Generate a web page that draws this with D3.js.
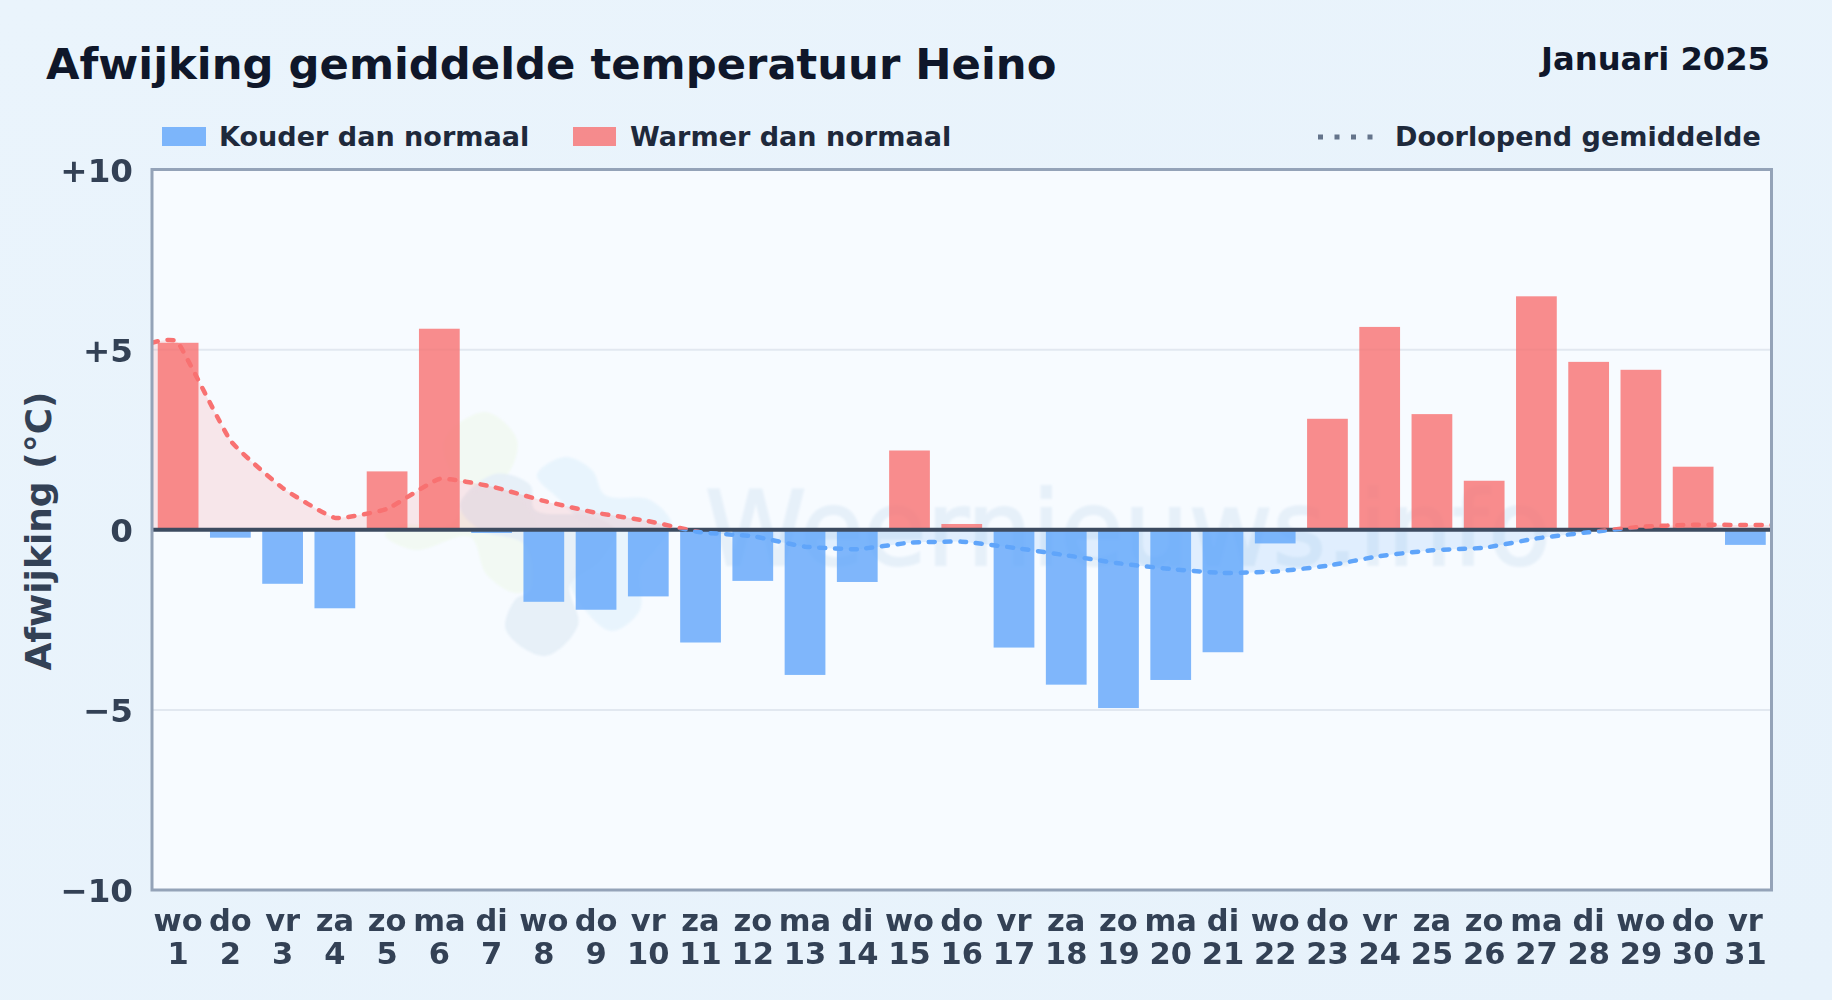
<!DOCTYPE html>
<html>
<head>
<meta charset="utf-8">
<script src="https://cdn.jsdelivr.net/npm/d3@7"></script>
<style>
    html, body { margin: 0; padding: 0; background: #e8f3fc; overflow: hidden; }
    svg { display: block; font-family: "DejaVu Sans", sans-serif; font-weight: bold; }
</style>
</head>
<body>
<svg id="chart" width="1832" height="1000"></svg>
<script>
// Day labels
const weekdays = ["wo","do","vr","za","zo","ma","di","wo","do","vr","za","zo","ma","di","wo","do","vr","za","zo","ma","di","wo","do","vr","za","zo","ma","di","wo","do","vr"];
const days = [1,2,3,4,5,6,7,8,9,10,11,12,13,14,15,16,17,18,19,20,21,22,23,24,25,26,27,28,29,30,31];

// Deviation per day in degrees
const deviation = [5.19,-0.22,-1.5,-2.18,1.62,5.58,-0.09,-2.0,-2.22,-1.85,-3.13,-1.42,-4.03,-1.45,2.2,0.16,-3.27,-4.3,-4.95,-4.17,-3.4,-0.38,3.08,5.63,3.21,1.36,6.48,4.66,4.44,1.75,-0.42];
const runningAvg = [5.19,2.48,1.16,0.33,0.58,1.41,1.2,0.8,0.47,0.24,-0.07,-0.18,-0.47,-0.54,-0.36,-0.33,-0.5,-0.71,-0.93,-1.09,-1.2,-1.16,-1.0,-0.73,-0.57,-0.5,-0.24,-0.07,0.08,0.14,0.13];

const yTicks = [10,5,0,-5,-10];
const yTickLabels = ["+10","+5","0","\u22125","\u221210"];

// Rough outlines of the logo behind the bars
const logoGreen = [[485,412],[517,440],[505,478],[470,495],[450,525],[400,525],[385,535],[415,550],[470,537],[487,575],[520,593],[545,560],[520,500],[458,480],[445,440]];
const logoBlue = [[565,457],[592,470],[605,495],[650,500],[672,525],[655,550],[640,570],[640,610],[612,631],[585,610],[570,580],[590,550],[600,530],[580,520],[560,500],[537,475]];
const logoDark = [[495,474],[530,485],[535,510],[590,516],[615,530],[600,560],[570,585],[578,625],[545,656],[506,630],[515,600],[530,590],[525,545],[480,530],[460,505]];

const red = "#f87171";
const blue = "#60a5fa";

const plot = {left: 152, right: 1771.5, top: 169.5, bottom: 890};

let svg = d3.select("#chart");

// Page background
let defs = svg.append("defs");
let bg = defs.append("linearGradient").attr("id", "bg")
    .attr("x1", 0).attr("y1", 0).attr("x2", 1).attr("y2", 1);
bg.append("stop").attr("offset", "0%").attr("stop-color", "#eaf4fc");
bg.append("stop").attr("offset", "100%").attr("stop-color", "#e7f2fb");
svg.append("rect").attr("width", 1832).attr("height", 1000).attr("fill", "url(#bg)");

defs.append("filter").attr("id", "soft")
    .append("feGaussianBlur").attr("stdDeviation", 1);

// Scales
let x = d3.scaleBand()
    .domain(days)
    .range([plot.left, plot.right])
    .paddingInner(0.22)
    .paddingOuter(0.11);
let y = d3.scaleLinear()
    .domain([-10, 10])
    .range([plot.bottom, plot.top]);

// Clips so the running average switches colour at zero
defs.append("clipPath").attr("id", "above").append("rect")
    .attr("x", plot.left).attr("y", plot.top)
    .attr("width", plot.right - plot.left).attr("height", y(0) - plot.top);
defs.append("clipPath").attr("id", "below").append("rect")
    .attr("x", plot.left).attr("y", y(0))
    .attr("width", plot.right - plot.left).attr("height", plot.bottom - y(0));

// Plot background
svg.append("rect")
    .attr("x", plot.left).attr("y", plot.top)
    .attr("width", plot.right - plot.left).attr("height", plot.bottom - plot.top)
    .attr("fill", "#f7fbff");

// Watermark
let blob = d3.line().curve(d3.curveCatmullRomClosed);
let mark = svg.append("g").attr("filter", "url(#soft)");
mark.append("path").attr("d", blob(logoGreen)).attr("fill", "#f2f9f3");
mark.append("path").attr("d", blob(logoBlue)).attr("fill", "#e8f4fd");
mark.append("path").attr("d", blob(logoDark)).attr("fill", "#e4eef7").attr("opacity", 0.9);
mark.append("text")
    .attr("x", 705).attr("y", 565)
    .attr("font-size", 102.6)
    .attr("font-weight", "normal")
    .attr("stroke", "#e6f0f9").attr("stroke-width", 2)
    .attr("fill", "#e6f0f9")
    .text("Weernieuws.info");

// Grid lines
svg.selectAll(".grid").data(yTicks.filter(d => d == 5 || d == -5))
    .enter().append("line")
    .attr("class", "grid")
    .attr("x1", plot.left).attr("x2", plot.right)
    .attr("y1", d => y(d)).attr("y2", d => y(d))
    .attr("stroke", "#e2e8f0").attr("stroke-width", 2);

// Bars
svg.selectAll(".bar").data(deviation)
    .enter().append("rect")
    .attr("class", "bar")
    .attr("x", (d, i) => x(days[i]))
    .attr("width", x.bandwidth())
    .attr("y", d => Math.min(y(d), y(0)))
    .attr("height", d => Math.abs(y(d) - y(0)))
    .attr("fill", d => d >= 0 ? red : blue)
    .attr("fill-opacity", 0.8);

// Running average, carried out to both edges of the plot
let avgPoints = runningAvg.map((d, i) => [x(days[i]) + x.bandwidth() / 2, d]);
avgPoints.unshift([plot.left, runningAvg[0]]);
avgPoints.push([plot.right, runningAvg[runningAvg.length - 1]]);

let smooth = d3.curveCardinal.tension(0.6);
let area = d3.area().curve(smooth)
    .x(d => d[0]).y0(y(0)).y1(d => y(d[1]));
let line = d3.line().curve(smooth)
    .x(d => d[0]).y(d => y(d[1]));

[["above", red], ["below", blue]].forEach(function(part) {
    svg.append("path")
        .attr("d", area(avgPoints))
        .attr("clip-path", "url(#" + part[0] + ")")
        .attr("fill", part[1]).attr("fill-opacity", 0.15);
});

// Zero line
svg.append("line")
    .attr("x1", plot.left).attr("x2", plot.right)
    .attr("y1", y(0)).attr("y2", y(0))
    .attr("stroke", "#3d4b60").attr("stroke-width", 4);

[["above", red], ["below", blue]].forEach(function(part) {
    svg.append("path")
        .attr("d", line(avgPoints))
        .attr("clip-path", "url(#" + part[0] + ")")
        .attr("fill", "none")
        .attr("stroke", part[1]).attr("stroke-width", 4.5)
        .attr("stroke-linecap", "round")
        .attr("stroke-dasharray", "6 9.7");
});

// Plot border
svg.append("rect")
    .attr("x", plot.left).attr("y", plot.top)
    .attr("width", plot.right - plot.left).attr("height", plot.bottom - plot.top)
    .attr("fill", "none").attr("stroke", "#94a3b8").attr("stroke-width", 3);

// Y axis
let yAxis = svg.append("g")
    .attr("transform", "translate(" + plot.left + ",1.2)")
    .call(d3.axisLeft(y).tickValues(yTicks).tickSize(0).tickPadding(19)
        .tickFormat((d, i) => yTickLabels[i]));
yAxis.select(".domain").remove();
yAxis.selectAll("text")
    .attr("font-family", "DejaVu Sans").attr("font-weight", "bold")
    .attr("font-size", 32.6).attr("fill", "#334155");

// X axis, weekday above the day number
let xAxis = svg.append("g")
    .attr("transform", "translate(0," + plot.bottom + ")")
    .call(d3.axisBottom(x).tickSize(0).tickFormat(""));
xAxis.select(".domain").remove();
xAxis.selectAll("text").remove();
let xTicks = xAxis.selectAll(".tick").append("text")
    .attr("font-family", "DejaVu Sans").attr("font-weight", "bold")
    .attr("font-size", 30.5).attr("fill", "#334155")
    .attr("text-anchor", "middle");
xTicks.append("tspan").attr("x", 0).attr("y", 41).text((d, i) => weekdays[i]);
xTicks.append("tspan").attr("x", 0).attr("y", 74).text(d => d);

// Titles
svg.append("text").attr("x", 46).attr("y", 79)
    .attr("font-size", 43.3).attr("fill", "#0f172a")
    .text("Afwijking gemiddelde temperatuur Heino");
svg.append("text").attr("x", 1770).attr("y", 70)
    .attr("text-anchor", "end")
    .attr("font-size", 32.2).attr("fill", "#0f172a")
    .text("Januari 2025");
svg.append("text")
    .attr("transform", "translate(51,531) rotate(-90)")
    .attr("text-anchor", "middle")
    .attr("font-size", 36).attr("fill", "#334155")
    .text("Afwijking (\u00b0C)");

// Legend
svg.append("rect").attr("x", 162).attr("y", 127).attr("width", 44).attr("height", 19)
    .attr("fill", blue).attr("fill-opacity", 0.8);
svg.append("text").attr("x", 219).attr("y", 146)
    .attr("font-size", 27.05).attr("fill", "#1e293b").text("Kouder dan normaal");
svg.append("rect").attr("x", 573).attr("y", 127).attr("width", 43).attr("height", 19)
    .attr("fill", red).attr("fill-opacity", 0.8);
svg.append("text").attr("x", 630).attr("y", 146)
    .attr("font-size", 27.05).attr("fill", "#1e293b").text("Warmer dan normaal");
svg.append("line")
    .attr("x1", 1318).attr("x2", 1374).attr("y1", 137).attr("y2", 137)
    .attr("stroke", "#64748b").attr("stroke-width", 5)
    .attr("stroke-dasharray", "5 11.5");
svg.append("text").attr("x", 1395).attr("y", 146)
    .attr("font-size", 27.05).attr("fill", "#1e293b").text("Doorlopend gemiddelde");
</script>
</body>
</html>
